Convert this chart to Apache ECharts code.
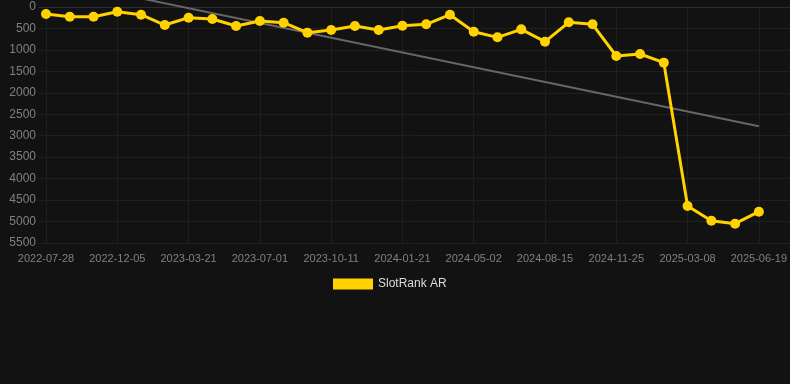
<!DOCTYPE html>
<html>
<head>
<meta charset="utf-8">
<script src="https://cdn.jsdelivr.net/npm/echarts@6/dist/echarts.min.js"></script>
<style>
  html, body { margin: 0; padding: 0; background: #121212; }
  #chart { width: 790px; height: 384px; }
</style>
</head>
<body>
<div id="chart"></div>
<script>
// 日期（类目轴）
var dates = [
  '2022-07-28', '2022-09-10', '2022-10-23', '2022-12-05', '2023-01-09', '2023-02-13',
  '2023-03-21', '2023-04-24', '2023-05-28', '2023-07-01', '2023-08-04', '2023-09-07',
  '2023-10-11', '2023-11-14', '2023-12-18', '2024-01-21', '2024-02-24', '2024-03-29',
  '2024-05-02', '2024-06-06', '2024-07-11', '2024-08-15', '2024-09-18', '2024-10-22',
  '2024-11-25', '2024-12-29', '2025-02-01', '2025-03-08', '2025-04-11', '2025-05-15',
  '2025-06-19'
];

// 排名数据
var rankAR = [
  163, 226, 226, 109, 179, 420, 249, 280, 443, 326, 365, 598, 536, 443, 536, 435,
  404, 179, 575, 707, 521, 808, 357, 404, 1142, 1095, 1297, 4638, 4980, 5050, 4770
];

// 趋势线 起点 / 终点
var trendEnds = [-660, 2780];

var myChart = echarts.init(document.getElementById('chart'));

var labelFont = 'Liberation Sans, Arial, sans-serif';

var option = {
  backgroundColor: '#121212',
  animation: false,
  // 第一个是数据区，第二个只画横向网格线（更宽）
  grid: [
    { left: 46, right: 29, top: 7, bottom: 141 },
    { left: 39, right: 0, top: 7, bottom: 141 }
  ],
  legend: {
    top: 273,
    left: 328,
    itemWidth: 40,
    itemHeight: 11,
    itemGap: 6,
    icon: 'rect',
    textStyle: { color: '#dddddd', fontSize: 12, fontFamily: labelFont },
    data: ['SlotRank AR']
  },
  xAxis: [
    {
      type: 'category',
      gridIndex: 0,
      boundaryGap: false,
      data: dates,
      axisLine: { show: false },
      axisTick: { show: false },
      axisLabel: {
        interval: 2,
        color: '#808080',
        fontSize: 11,
        margin: 10,
        fontFamily: labelFont
      },
      splitLine: {
        show: true,
        interval: 2,
        lineStyle: { color: '#1f1f1f' }
      }
    },
    {
      type: 'value',
      gridIndex: 1,
      min: 0,
      max: 1,
      axisLine: { show: true, lineStyle: { color: '#2c2c2c' } },
      axisTick: { show: false },
      axisLabel: { show: false },
      splitLine: { show: false }
    }
  ],
  yAxis: [
    {
      type: 'value',
      gridIndex: 0,
      inverse: true,
      min: 0,
      max: 5500,
      interval: 500,
      axisLine: { show: false },
      axisTick: { show: false },
      axisLabel: {
        color: '#808080',
        fontSize: 12,
        margin: 10,
        fontFamily: labelFont,
        formatter: function (v) { return String(v); }
      },
      splitLine: { show: false }
    },
    {
      type: 'value',
      gridIndex: 1,
      inverse: true,
      min: 0,
      max: 5500,
      interval: 500,
      axisLine: { show: false },
      axisTick: { show: false },
      axisLabel: { show: false },
      splitLine: { lineStyle: { color: '#1f1f1f' } }
    }
  ],
  series: [
    {
      name: 'SlotRank AR',
      type: 'line',
      xAxisIndex: 0,
      yAxisIndex: 0,
      data: rankAR,
      color: '#ffd200',
      symbol: 'circle',
      symbolSize: 10,
      lineStyle: { width: 3, color: '#ffd200' },
      itemStyle: { color: '#ffd200' },
      z: 3
    },
    {
      name: 'trend',
      type: 'line',
      xAxisIndex: 0,
      yAxisIndex: 0,
      data: [[dates[0], trendEnds[0]], [dates[dates.length - 1], trendEnds[1]]],
      symbol: 'none',
      clip: false,
      silent: true,
      lineStyle: { width: 2, color: '#666666' },
      z: 2
    }
  ]
};

myChart.setOption(option);
</script>
</body>
</html>
